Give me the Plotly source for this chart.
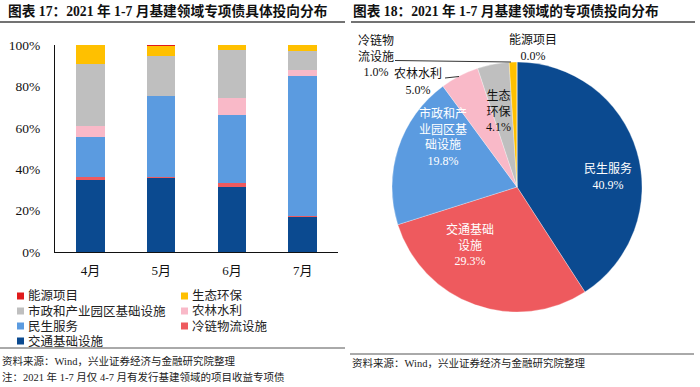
import plotly.graph_objects as go

# ---------------- data ----------------
months = ["4月", "5月", "6月", "7月"]
series_names = ["交通基础设施", "冷链物流设施", "民生服务", "农林水利",
                "市政和产业园区基础设施", "生态环保", "能源项目"]
transport = [35.2, 36.0, 31.6, 17.1]
cold_chain = [0.9, 0.1, 1.9, 0.3]
livelihood = [19.4, 39.2, 32.6, 67.4]
agri = [5.5, 0.0, 8.3, 3.3]
municipal = [29.6, 19.6, 23.3, 9.0]
eco = [9.4, 4.8, 2.3, 2.9]
energy = [0.0, 0.3, 0.0, 0.0]
bar_colors = ["#0B4A90", "#EE5A5E", "#5B9BE0", "#F9B9C8", "#BFBFBF", "#FFC000", "#E01B1B"]
y_ticks = [0, 20, 40, 60, 80, 100]
y_tick_text = ["0%", "20%", "40%", "60%", "80%", "100%"]

legend_order = ["能源项目", "生态环保", "市政和产业园区基础设施", "农林水利",
                "民生服务", "冷链物流设施", "交通基础设施"]

pie_labels = ["民生服务", "交通基础设施", "市政和产业园区基础设施", "农林水利",
              "生态环保", "冷链物流设施", "能源项目"]
pie_values = [40.9, 29.3, 19.8, 5.0, 4.1, 1.0, 0.0]
pie_colors = ["#0B4A90", "#EE5A5E", "#5B9BE0", "#F9B9C8", "#BFBFBF", "#FFC000", "#E01B1B"]
pie_label_text = ["民生服务", "交通基础<br>设施", "市政和产<br>业园区基<br>础设施", "农林水利",
                  "生态<br>环保", "冷链物<br>流设施", "能源项目"]

title_left = "图表 17：2021 年 1-7 月基建领域专项债具体投向分布"
title_right = "图表 18：2021 年 1-7 月基建领域的专项债投向分布"
source_text = "资料来源：Wind，兴业证券经济与金融研究院整理"
note_text = "注：2021 年 1-7 月仅 4-7 月有发行基建领域的项目收益专项债"

# ---------------- layout helpers ----------------
W, H = 700, 387
FONT = "Liberation Serif, Noto Sans CJK SC, serif"


def px(x):
    return x / W


def py(y):
    return 1 - y / H


fig = go.Figure()

series_values = [transport, cold_chain, livelihood, agri, municipal, eco, energy]
for name, vals, col in zip(series_names, series_values, bar_colors):
    fig.add_trace(go.Bar(x=months, y=vals, name=name, marker=dict(color=col, line=dict(width=0)),
                         showlegend=False, xaxis="x", yaxis="y"))

fig.add_trace(go.Pie(values=pie_values, labels=pie_labels, sort=False, direction="clockwise",
                     rotation=0, textinfo="none", hoverinfo="label+percent", automargin=False,
                     marker=dict(colors=pie_colors, line=dict(color="white", width=0.3)),
                     domain=dict(x=[px(392), px(642)], y=[py(312), py(62)]),
                     showlegend=False))

annotations = []
shapes = []

# titles
for t, x0 in [(title_left, 6), (title_right, 351)]:
    annotations.append(dict(text="<b>" + t + "</b>", x=px(x0), y=py(11), xref="paper", yref="paper",
                            xanchor="left", yanchor="middle", showarrow=False,
                            font=dict(family=FONT, size=13.7, color="#111")))
shapes.append(dict(type="line", xref="paper", yref="paper", x0=0, x1=px(345), y0=py(22), y1=py(22),
                   line=dict(color="#444", width=1.5)))
shapes.append(dict(type="line", xref="paper", yref="paper", x0=px(351), x1=px(695), y0=py(22), y1=py(22),
                   line=dict(color="#444", width=1.5)))

# custom legend (two columns)
color_of = dict(zip(series_names, bar_colors))
col_x = [17, 181]
row_y = [296, 311, 326, 341]
for i, name in enumerate(legend_order):
    cx = col_x[i % 2]
    cy = row_y[i // 2]
    shapes.append(dict(type="rect", xref="paper", yref="paper",
                       x0=px(cx), x1=px(cx + 7), y0=py(cy + 3.5), y1=py(cy - 3.5),
                       fillcolor=color_of[name], line=dict(width=0)))
    annotations.append(dict(text=name, x=px(cx + 10), y=py(cy), xref="paper", yref="paper",
                            xanchor="left", yanchor="middle", showarrow=False, borderpad=0,
                            font=dict(family=FONT, size=12.5, color="#222")))

# footer
shapes.append(dict(type="line", xref="paper", yref="paper", x0=0, x1=px(345), y0=py(348), y1=py(348),
                   line=dict(color="#555", width=1)))
shapes.append(dict(type="line", xref="paper", yref="paper", x0=px(350), x1=px(694), y0=py(354), y1=py(354),
                   line=dict(color="#555", width=1)))
for t, x0, y0 in [(source_text, 0, 361), (note_text, 0, 377), (source_text, 350, 363)]:
    annotations.append(dict(text=t, x=px(x0), y=py(y0), xref="paper", yref="paper",
                            xanchor="left", yanchor="middle", showarrow=False,
                            font=dict(family=FONT, size=10.5, color="#222")))

# pie labels
label_pos = [(608, 177), (470, 245), (443, 137), (418, 82), (498, 112), (376, 56), (533, 48)]
label_color = ["white", "white", "white", "#111", "#111", "#111", "#111"]
for txt, v, (lx, ly), c in zip(pie_label_text, pie_values, label_pos, label_color):
    annotations.append(dict(text=f"{txt}<br>{v:.1f}%", x=px(lx), y=py(ly), xref="paper", yref="paper",
                            xanchor="center", yanchor="middle", showarrow=False, align="center",
                            font=dict(family=FONT, size=12, color=c)))

# leader lines
shapes.append(dict(type="line", xref="paper", yref="paper", x0=px(395), x1=px(511), y0=py(60.5), y1=py(62),
                   line=dict(color="#333", width=1)))
shapes.append(dict(type="line", xref="paper", yref="paper", x0=px(445), x1=px(459), y0=py(78), y1=py(76.5),
                   line=dict(color="#333", width=1)))

fig.update_layout(
    width=W, height=H,
    margin=dict(l=0, r=0, t=0, b=0, pad=0, autoexpand=False),
    paper_bgcolor="white", plot_bgcolor="white",
    barmode="stack", bargap=0.6,
    xaxis=dict(domain=[px(55), px(338)], type="category", showline=True, linecolor="#111", linewidth=1,
               ticks="", showgrid=False, zeroline=False, ticklabelstandoff=6, automargin=False,
               tickfont=dict(family=FONT, size=13, color="#111")),
    yaxis=dict(domain=[py(252), py(45)], range=[0, 100], tickmode="array", tickvals=y_ticks,
               ticktext=y_tick_text, showline=True, linecolor="#111", linewidth=1, ticks="",
               showgrid=False, zeroline=False, automargin=False,
               ticklabelstandoff=11, tickfont=dict(family=FONT, size=13.5, color="#111")),
    annotations=annotations,
    shapes=shapes,
)

fig.write_html("out.html", config={"displayModeBar": False},
               post_script="document.body.style.margin='0';")
